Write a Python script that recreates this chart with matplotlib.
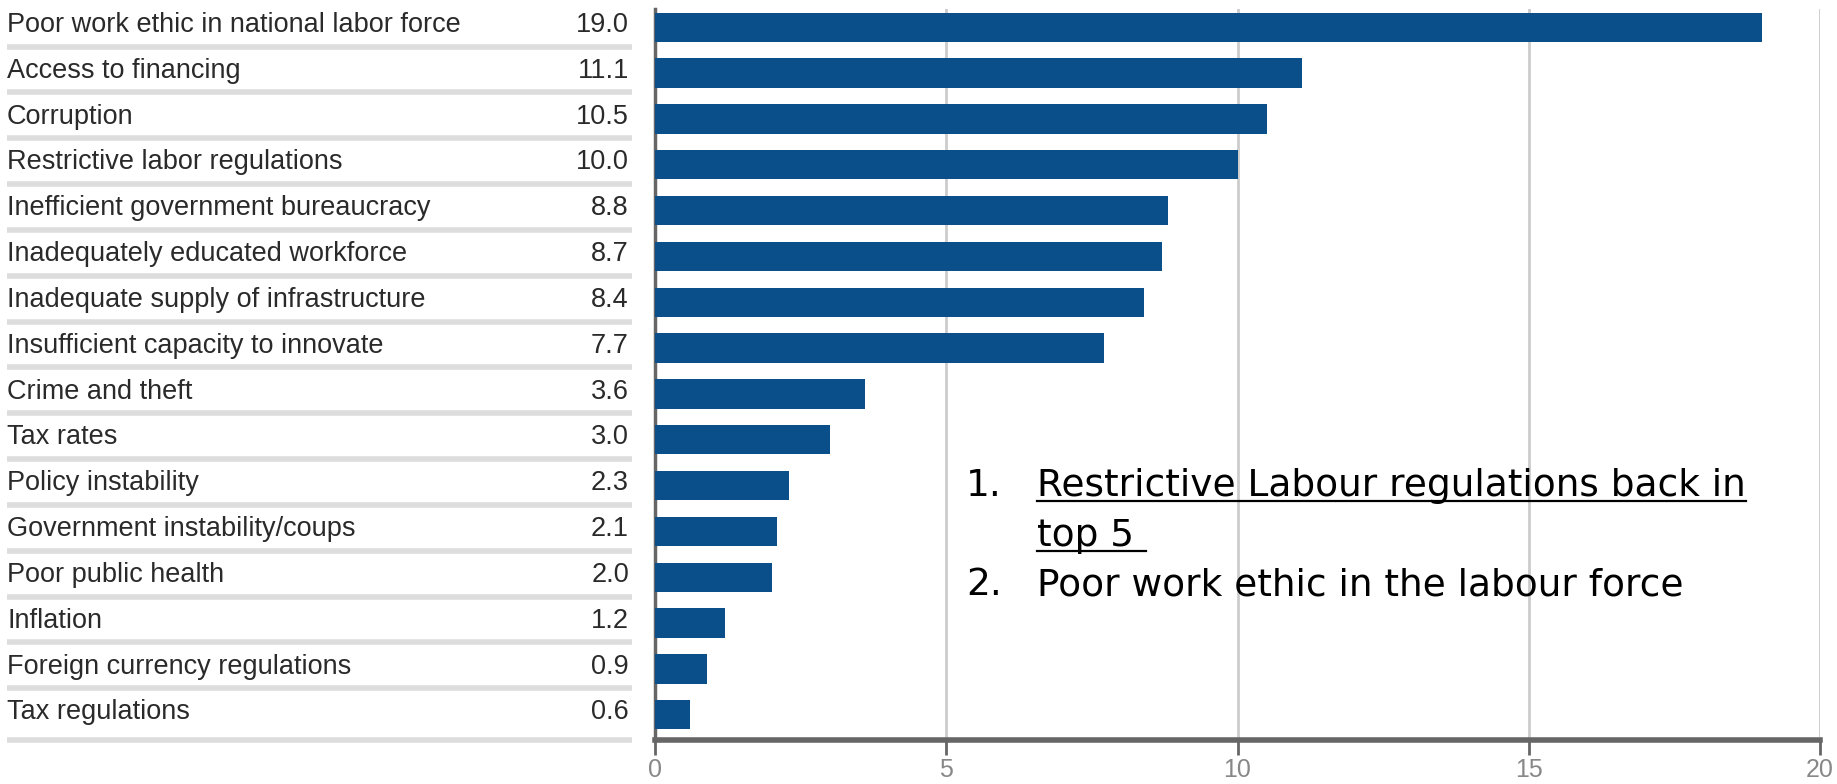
import numpy as np
import matplotlib.pyplot as plt
from matplotlib import font_manager
from matplotlib.lines import Line2D
from matplotlib.transforms import IdentityTransform

labels = ["Poor work ethic in national labor force", "Access to financing", "Corruption",
          "Restrictive labor regulations", "Inefficient government bureaucracy",
          "Inadequately educated workforce", "Inadequate supply of infrastructure",
          "Insufficient capacity to innovate", "Crime and theft", "Tax rates",
          "Policy instability", "Government instability/coups", "Poor public health",
          "Inflation", "Foreign currency regulations", "Tax regulations"]
values = [19.0, 11.1, 10.5, 10.0, 8.8, 8.7, 8.4, 7.7, 3.6, 3.0, 2.3, 2.1, 2.0, 1.2, 0.9, 0.6]
xticks = [0, 5, 10, 15, 20]
notes = ["Restrictive Labour regulations back in", "top 5 ", "Poor work ethic in the labour force"]

names = {f.name for f in font_manager.fontManager.ttflist}
narrow = 'Liberation Sans Narrow' if 'Liberation Sans Narrow' in names else 'Liberation Sans'

W, H = 1837, 784
fig = plt.figure(figsize=(W / 100, H / 100), dpi=100)
x0, xr, ytop, ybot = 655, 1820, 9, 740
ax = fig.add_axes([x0 / W, 1 - ybot / H, (xr - x0) / W, (ybot - ytop) / H])
axl = fig.add_axes([0, 1 - ybot / H, x0 / W, (ybot - ytop) / H], sharey=ax)

y = np.arange(len(values))
ax.barh(y, values, height=0.64, color='#0b4f8a', zorder=3)
ax.set_xlim(0, 20)
ax.set_ylim(15.55, -0.4)
ax.set_xticks(xticks)
ax.set_xticklabels([str(t) for t in xticks], family=narrow)
ax.xaxis.grid(True, color='#cccccc', lw=2)
ax.set_axisbelow(True)
for s in ['top', 'right']:
    ax.spines[s].set_visible(False)
ax.spines['left'].set_color('#666666')
ax.spines['left'].set_linewidth(2.5)
ax.spines['bottom'].set_color('#666666')
ax.spines['bottom'].set_linewidth(4)
ax.tick_params(axis='x', length=11, width=2, color='#666666', labelsize=18, labelcolor='#888888', pad=2)
ax.tick_params(axis='y', left=False, labelleft=False)

# left table: labels, values, separators
axl.set_xlim(0, x0)
axl.axis('off')
for i, (lab, v) in enumerate(zip(labels, values)):
    axl.text(7, i + 0.1, lab, family=narrow, fontsize=19.5, color='#2a2a2a', va='baseline', ha='left')
    axl.text(629, i + 0.1, f"{v:.1f}", family=narrow, fontsize=19.5, color='#2a2a2a', va='baseline', ha='right')
seps = list(np.arange(15) + 0.42) + [15.55]
axl.hlines(seps, 7, 632, color='#dddddd', lw=4, clip_on=False)

# annotation list
fs = 27
base = [496, 546, 595]
num = ['1.', '', '2.']
texts = []
for n, t, b in zip(num, notes, base):
    if n:
        fig.text(966 / W, 1 - b / H, n, fontsize=fs, va='baseline', color='black')
    texts.append(fig.text(1037 / W, 1 - b / H, t, fontsize=fs, va='baseline', color='black'))

fig.canvas.draw()
r = fig.canvas.get_renderer()
for t, b in zip(texts[:2], base[:2]):
    bb = t.get_window_extent(r)
    yy = H - b - 5
    fig.add_artist(Line2D([bb.x0, bb.x1], [yy, yy], transform=IdentityTransform(), color='black', lw=1.6))

fig.savefig('out.png', dpi=100)
